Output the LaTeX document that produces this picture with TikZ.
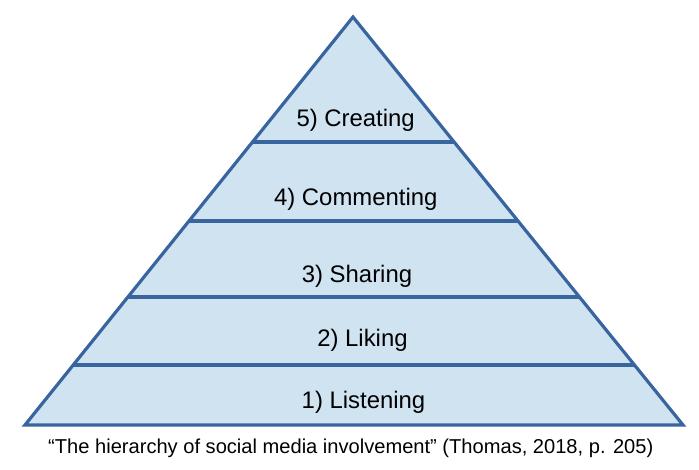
\documentclass[tikz,border=0pt]{standalone}
\usepackage{fontspec}
\setmainfont{Liberation Sans}
\usetikzlibrary{calc}
\definecolor{edgeblue}{RGB}{56,100,160}
\definecolor{fillblue}{RGB}{208,227,241}
\tikzset{
  pyr/.style={draw=edgeblue, line width=3.2pt, line join=miter},
  tier/.style={draw=edgeblue, line width=3.2pt},
  lbl/.style={anchor=base, inner sep=0pt, font=\fontsize{23.9}{28}\selectfont, text=black},
  captext/.style={anchor=base, inner sep=0pt, font=\fontsize{20.1}{24}\selectfont, text=black}
}
\begin{document}
\begin{tikzpicture}[x=1pt,y=-1pt]
\useasboundingbox (0,0) rectangle (699,470);
\coordinate (apex) at (353,17);
\coordinate (bl) at (25,425);
\coordinate (br) at (683,425);
\fill[fillblue] (apex) -- (bl) -- (br) -- cycle;
% tier dividers
\foreach \n/\y in {a/142,b/221,c/297,d/365}{
  \pgfmathsetmacro{\t}{(\y-17)/408}
  \coordinate (l\n) at ($(apex)!\t!(bl)$);
  \coordinate (r\n) at ($(apex)!\t!(br)$);
  \draw[tier] (l\n) -- (r\n);
}
\draw[pyr] (apex) -- (bl) -- (br) -- cycle;
\node[lbl] (t5) at (355.7,126.7) {5) Creating};
\node[lbl] (t4) at (355.8,206) {4) Commenting};
\node[lbl] (t3) at (357,282.3) {3) Sharing};
\node[lbl] (t2) at (362.5,346.7) {2) Liking};
\node[lbl] (t1) at (363.5,408.3) {1) Listening};
\node[captext] (caption) at (350.8,453) {“The hierarchy of social media involvement” (Thomas, 2018, p. 205)};
\end{tikzpicture}
\end{document}
